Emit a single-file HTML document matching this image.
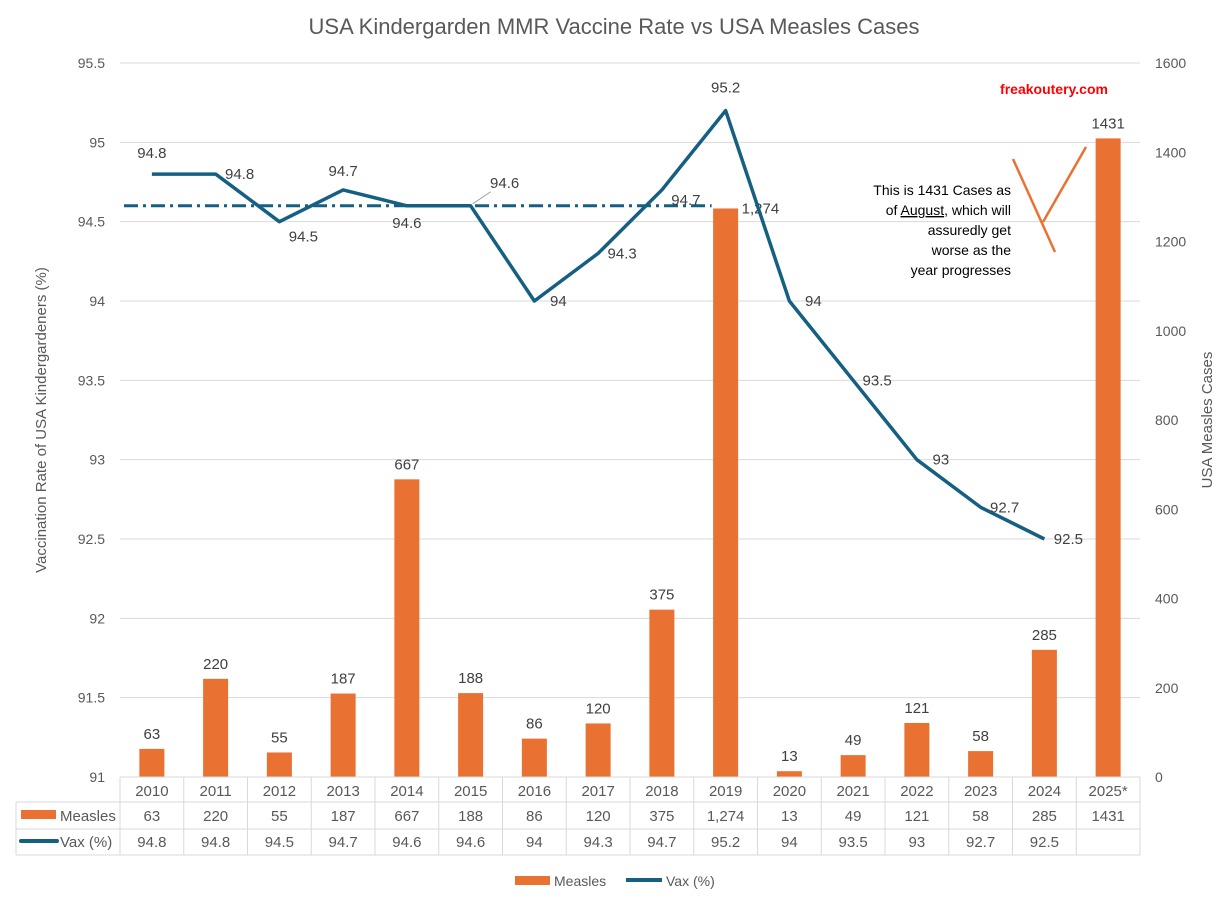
<!DOCTYPE html>
<html><head><meta charset="utf-8"><style>
body{margin:0;background:#fff;}
svg{display:block;font-family:"Liberation Sans",sans-serif;}
</style></head><body>
<svg id="c" width="1228" height="900" viewBox="0 0 1228 900"></svg>
<script>
const years=["2010","2011","2012","2013","2014","2015","2016","2017","2018","2019","2020","2021","2022","2023","2024","2025*"];
const measles=[63,220,55,187,667,188,86,120,375,1274,13,49,121,58,285,1431];
const measlesLabels=["63","220","55","187","667","188","86","120","375","1,274","13","49","121","58","285","1431"];
const vax=[94.8,94.8,94.5,94.7,94.6,94.6,94,94.3,94.7,95.2,94,93.5,93,92.7,92.5,null];
const leftTicks=[91,91.5,92,92.5,93,93.5,94,94.5,95,95.5];
const rightTicks=[0,200,400,600,800,1000,1200,1400,1600];
const avgVax=94.6;
const NS="http://www.w3.org/2000/svg";
const svg=document.getElementById('c');
const X0=120,X1=1140,Y0=777,Y1=63;
const bw=(X1-X0)/years.length;
const xc=i=>X0+bw*(i+0.5);
const yL=v=>Y0-(v-91)/(95.5-91)*(Y0-Y1);
const yR=v=>Y0-v/1600*(Y0-Y1);
function el(t,a,p){const e=document.createElementNS(NS,t);for(const k in a)e.setAttribute(k,a[k]);(p||svg).appendChild(e);return e;}
function tx(x,y,s,a){const e=el('text',Object.assign({x:x,y:y,'font-size':14,fill:'#404040','text-anchor':'middle'},a||{}));e.textContent=s;return e;}
let t=tx(614,34,"USA Kindergarden MMR Vaccine Rate vs USA Measles Cases",{'font-size':22,fill:'#595959'});

leftTicks.forEach(v=>{
 if(v>91){const g=el('line',{x1:X0,x2:X1,y1:yL(v),y2:yL(v),stroke:'#d9d9d9'});}
 const l=tx(105,yL(v)+5,String(v),{'text-anchor':'end',fill:'#595959'});
});
rightTicks.forEach(v=>{const l=tx(1155,yR(v)+5,String(v),{'text-anchor':'start',fill:'#595959'});});
t=tx(46,420,"Vaccination Rate of USA Kindergardeners (%)",{transform:'rotate(-90 46 420)',fill:'#595959','font-size':15});

t=tx(1212,420,"USA Measles Cases",{transform:'rotate(-90 1212 420)',fill:'#595959','font-size':15});

measles.forEach((v,i)=>{
 const b=el('rect',{x:xc(i)-12.5,y:yR(v),width:25,height:Y0-yR(v),fill:'#E97132'});
 
 let lx=xc(i),ly=yR(v)-10,anc='middle';
 if(i===9){lx=xc(i)+16;ly=yR(v)+5;anc='start';}
 const l=tx(lx,ly,measlesLabels[i],{'text-anchor':anc,'font-size':15});
 
});
const d=el('line',{x1:X0+4,x2:xc(9)-14,y1:yL(avgVax),y2:yL(avgVax),stroke:'#156082','stroke-width':3,'stroke-dasharray':'14 5 3 5'});

let pts=[];vax.forEach((v,i)=>{if(v!==null)pts.push(xc(i)+','+yL(v));});
const pl=el('polyline',{points:pts.join(' '),fill:'none',stroke:'#156082','stroke-width':3.5,'stroke-linejoin':'round'});

const off=[[0,-16],[24,5],[24,20],[0,-14],[0,22],[34,-18],[24,5],[24,5],[24,15],[0,-18],[24,5],[24,5],[24,5],[24,5],[24,5]];
vax.forEach((v,i)=>{if(v===null)return;
 const l=tx(xc(i)+off[i][0],yL(v)+off[i][1],String(v),{'font-size':15});
 });
el('line',{x1:xc(5)+2,y1:yL(94.6)-2,x2:xc(5)+20,y2:yL(94.6)-14,stroke:'#a6a6a6'});
t=tx(1054,94,"freakoutery.com",{fill:'#ff0000','font-weight':'bold','font-size':14});

const ann=["This is 1431 Cases as","","assuredly get","worse as the","year progresses"];
ann.forEach((s,k)=>{if(!s)return;const l=tx(1011,195+k*20,s,{'text-anchor':'end',fill:'#000','font-size':14});});
const a2=el('text',{x:1011,y:215,'text-anchor':'end',fill:'#000','font-size':14});

const s1=el('tspan',{},a2);s1.textContent="of ";
const s2=el('tspan',{'text-decoration':'underline'},a2);s2.textContent="August";
const s3=el('tspan',{},a2);s3.textContent=", which will";
el('line',{x1:1013,y1:159,x2:1055,y2:252,stroke:'#E97132','stroke-width':2.5});
el('line',{x1:1043,y1:222,x2:1086,y2:147,stroke:'#E97132','stroke-width':2.5});
const g='#d9d9d9';
el('line',{x1:X0,x2:X1,y1:Y0,y2:Y0,stroke:g});
[802,829,855].forEach(y=>el('line',{x1:16,x2:X1,y1:y,y2:y,stroke:g}));
el('line',{x1:16,x2:16,y1:802,y2:855,stroke:g});
for(let i=0;i<=years.length;i++)el('line',{x1:X0+bw*i,x2:X0+bw*i,y1:Y0,y2:855,stroke:g});
years.forEach((y,i)=>{
 let l=tx(xc(i),796,y,{fill:'#595959','font-size':15});
 l=tx(xc(i),821,measlesLabels[i],{fill:'#595959','font-size':15});
 if(vax[i]!==null){l=tx(xc(i),847,String(vax[i]),{fill:'#595959','font-size':15});}
});
el('rect',{x:21,y:810,width:35,height:9,fill:'#E97132'});
tx(60,821,"Measles",{'text-anchor':'start',fill:'#595959','font-size':15});
el('line',{x1:21,x2:57,y1:841,y2:841,stroke:'#156082','stroke-width':4,'stroke-linecap':'round'});
tx(60,847,"Vax (%)",{'text-anchor':'start',fill:'#595959','font-size':15});
const lg=el('g',{});
el('rect',{x:515,y:876,width:35,height:9,fill:'#E97132'},lg);
tx(554,886,"Measles",{'text-anchor':'start',fill:'#595959','font-size':14});
el('line',{x1:626,x2:662,y1:880,y2:880,stroke:'#156082','stroke-width':4},lg);
tx(666,886,"Vax (%)",{'text-anchor':'start',fill:'#595959','font-size':14});
</script>
</body></html>
